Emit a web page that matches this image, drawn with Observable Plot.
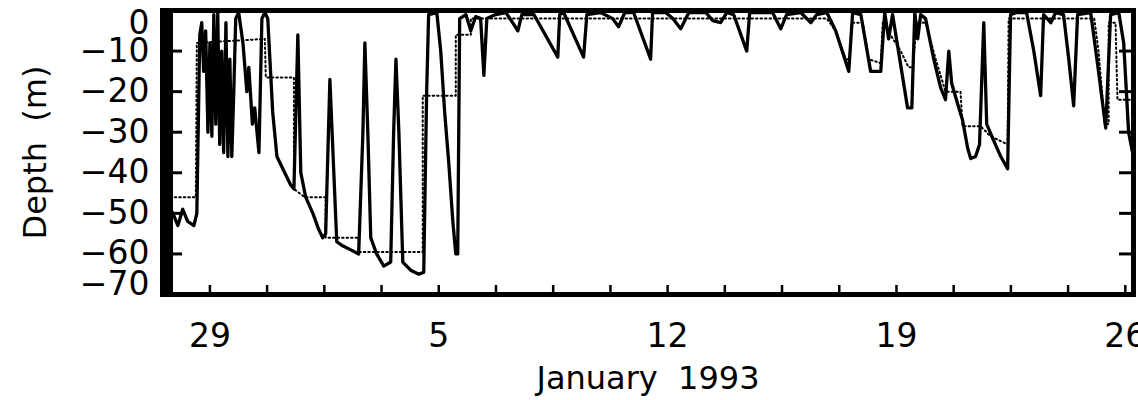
<!DOCTYPE html>
<html>
<head>
<meta charset="utf-8">
<script src="https://cdn.jsdelivr.net/npm/d3@7"></script>
<script src="https://cdn.jsdelivr.net/npm/@observablehq/plot@0.6"></script>
<style>
  body { margin: 0; background: #fff; }
  #chart svg text { fill: #000; }
  #chart g[aria-label="tick label"] text { stroke: #000; stroke-width: 0.7px; }
  #chart g[aria-label="axis title"] text { stroke: #000; stroke-width: 0.5px; letter-spacing: 2.5px; }
</style>
</head>
<body>
<div id="chart"></div>
<script>
// Time is in fractional days of January 1993 (1 = Jan 1 00:00, -2 = Dec 29 1992).
const profileDay = [
  -3.44,-3.32,-3.13,-2.98,-2.83,-2.68,-2.49,-2.40,
  -2.31,-2.25,-2.19,-2.13,-2.06,-2.00,-1.94,-1.88,-1.82,-1.76,
  -1.70,-1.64,-1.58,-1.51,-1.45,-1.39,-1.33,-1.27,-1.21,
  -1.12,-0.99,-0.87,-0.81,-0.70,-0.63,-0.50,
  -0.41,-0.32,-0.23,
  -0.08,0.05,0.23,0.47,0.57,0.69,0.78,0.93,1.15,1.33,
  1.45,1.54,1.67,1.79,1.88,2.06,2.31,2.55,2.68,2.74,
  2.83,2.92,3.10,3.32,3.53,3.62,3.69,3.78,3.90,4.14,
  4.39,4.54,4.63,4.69,4.94,5.06,5.18,5.31,5.43,5.52,
  5.58,5.64,5.83,5.98,6.13,6.28,6.38,6.47,6.74,7.05,
  7.26,7.42,7.54,7.91,8.64,8.70,8.82,9.43,9.53,9.95,
  10.32,10.50,10.69,10.96,11.48,11.54,11.94,12.16,12.40,12.65,
  13.17,13.38,13.62,13.81,14.02,14.42,14.51,15.21,15.46,15.64,
  16.07,16.38,16.56,16.87,17.14,17.54,17.66,17.91,18.21,18.52,
  18.64,18.76,18.88,19.34,19.47,19.56,19.65,19.74,19.89,20.14,
  20.35,20.50,20.60,20.69,20.87,21.02,21.18,21.27,21.42,21.54,
  21.67,21.76,21.97,22.19,22.40,22.49,22.68,22.98,23.20,23.41,
  23.50,23.72,23.87,24.11,24.27,24.42,24.54,24.94,25.18,25.40,
  25.55,25.80,25.95,26.10,26.22
];
const profileDepth = [
  -2,-48,-50,-53,-49,-52,-53,-50,
  -6,-3,-15,-5,-30,-8,-31,-1,-28,-0.5,
  -33,-10,-35,-3,-36,-12,-36,-20,-2,
  -0.5,-8,-20,-14,-28,-24,-35,
  -2,-0.5,-2,
  -25,-36,-39,-43,-44,-6,-40,-46,-50,-54,
  -56,-55,-17,-40,-57,-58,-59,-60,-30,-8,
  -30,-56,-60,-63,-62,-30,-12,-30,-62,-64,
  -65,-64.5,-20,-1,-0.5,-10,-25,-38,-52,-60,
  -60,-2,-1,-5,-1.5,-2,-16,-2,-1,-0.5,
  -3,-5,-1,-1,-11.5,-1,-0.5,-11.5,-1,-0.5,
  -2,-4,-0.5,-0.5,-12,-0.5,-0.5,-2,-4.5,-0.5,
  -0.5,-2.5,-3,-0.5,-1,-10,-0.5,-0.5,-4.5,-1,
  -0.5,-3,-1,-0.5,-5,-15,-0.5,-1,-15,-15,
  -0.5,-7,-1,-24,-24,-0.5,-7,-1,-2,-12,
  -19,-22,-10,-18,-23,-27,-34,-36.5,-36,-33,
  -3,-28,-32,-36,-39,-1,-0.5,-0.5,-10,-21,
  -1,-3,-0.5,-1,-12,-23.5,-1,-0.5,-15,-29,
  -1,-0.5,-8,-30,-35
];

// Mixed-layer depth (dotted, stepwise)
const mixedDay = [
  -3.35,-2.43,-2.40,-0.32,-0.29,0.57,0.57,0.90,1.54,1.54,
  2.55,2.55,4.51,4.51,5.52,5.52,5.98,5.98,16.87,17.14,
  17.45,17.57,17.63,17.97,18.15,18.52,18.58,19.13,19.37,19.50,
  19.62,19.89,20.20,20.50,20.96,21.02,21.57,21.88,22.40,22.43,
  25.05,25.18,25.37,25.49,25.49,25.70,25.76,26.22
];
const mixedDepth = [
  -46,-46,-8,-7,-16.5,-16.5,-44,-46,-46,-56,
  -56,-59.5,-59.5,-21,-21,-6,-6,-2,-2,-5,
  -12,-12,-3,-3,-12,-13,-3,-10,-14,-14,
  -3,-3,-12,-20,-20,-28.5,-28.5,-31,-33,-2,
  -2,-10,-28,-28,-3,-3,-22,-22
];

const labelDays = [-2, 5, 12, 19, 26];
const depthTicks = [0, -10, -20, -30, -40, -50, -60, -70];
const dayStart = -3.45, dayEnd = 26.25;

const toDate = d => new Date(Date.UTC(1993, 0, 1) + (d - 1) * 864e5);

const profile = profileDay.map((d, i) => ({date: toDate(d), depth: profileDepth[i]}));
const mixed = mixedDay.map((d, i) => ({date: toDate(d), depth: mixedDepth[i]}));
const minorTicks = d3.range(-2, dayEnd, 1.75).map(toDate);
const dayFmt = d3.utcFormat("%-d");
const numFmt = d => d === 0 ? "0" : "\u2212" + Math.abs(d);

const font = {fontSize: 33, fontFamily: "DejaVu Sans", label: null};
const bare = {tickFormat: () => "", label: null};

const chart = Plot.plot({
  width: 1138,
  height: 400,
  marginLeft: 162,
  marginRight: 5,
  marginTop: 10,
  marginBottom: 106,
  style: {fontFamily: "DejaVu Sans", background: "#fff", color: "#000", overflow: "visible"},
  x: {type: "utc", domain: [toDate(dayStart), toDate(dayEnd)]},
  y: {domain: [-70, 0]},
  marks: [
    Plot.line(mixed, {x: "date", y: "depth", stroke: "#000", strokeWidth: 2, strokeDasharray: "1.5,3", clip: true}),
    Plot.line(profile, {x: "date", y: "depth", stroke: "#000", strokeWidth: 3.3, strokeLinejoin: "round", clip: true}),
    Plot.frame({stroke: "#000", strokeWidth: 5}),
    Plot.ruleX([toDate(dayStart)], {stroke: "#000", strokeWidth: 11, dx: 5}),
    // inward tick marks
    Plot.axisY(depthTicks, {anchor: "left", tickSize: -20, strokeWidth: 3, ...bare}),
    Plot.axisY(depthTicks, {anchor: "right", tickSize: -15, strokeWidth: 3, ...bare}),
    Plot.axisX(minorTicks, {anchor: "bottom", tickSize: -9, strokeWidth: 2.5, ...bare}),
    // tick labels
    Plot.axisY([0], {anchor: "left", tickSize: 0, tickPadding: 13, lineAnchor: "top", tickFormat: numFmt, ...font, ariaLabel: "tick label"}),
    Plot.axisY(depthTicks.slice(1, -1), {anchor: "left", tickSize: 0, tickPadding: 13, tickFormat: numFmt, ...font, ariaLabel: "tick label"}),
    Plot.axisY([-70], {anchor: "left", tickSize: 0, tickPadding: 13, lineAnchor: "bottom", tickFormat: numFmt, ...font, ariaLabel: "tick label"}),
    Plot.axisX(labelDays.map(toDate), {anchor: "bottom", tickSize: 0, tickPadding: 29, tickFormat: dayFmt, ...font, ariaLabel: "tick label"}),
    // axis titles
    Plot.text(["January  1993"], {frameAnchor: "bottom", dy: 84, fontSize: 32, textAnchor: "middle", lineAnchor: "middle", ariaLabel: "axis title"}),
    Plot.text(["Depth  (m)"], {frameAnchor: "left", dx: -127, rotate: -90, fontSize: 32, textAnchor: "middle", lineAnchor: "middle", ariaLabel: "axis title"})
  ]
});

document.getElementById("chart").append(chart);
</script>
</body>
</html>
